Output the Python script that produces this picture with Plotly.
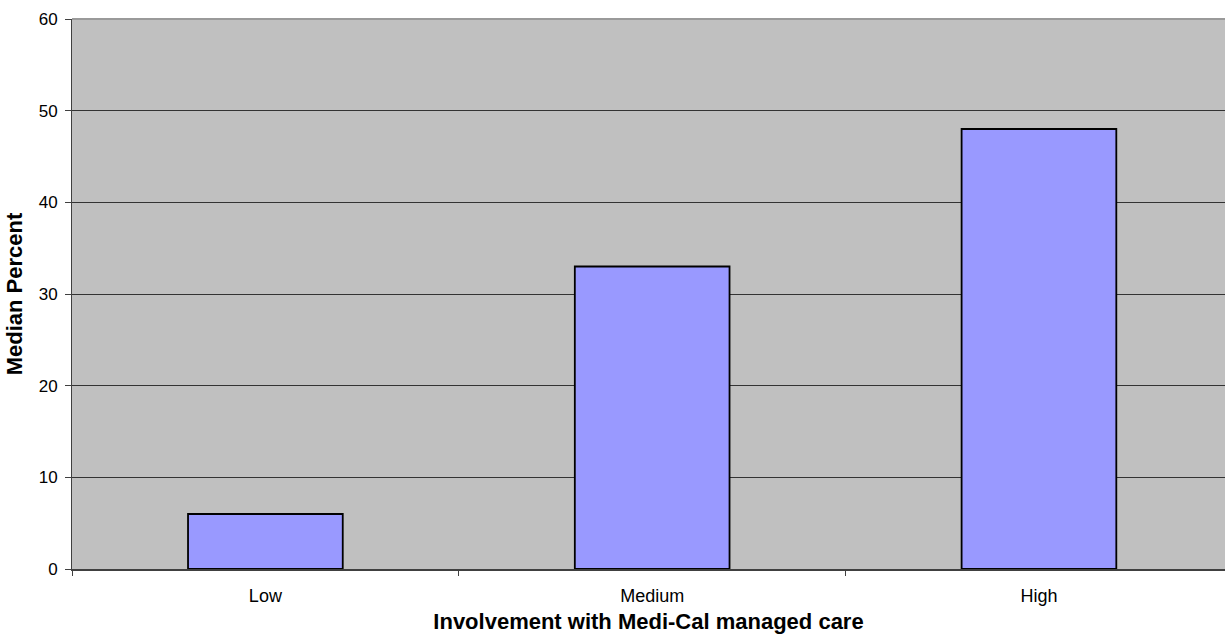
import plotly.graph_objects as go

# Median percent by level of involvement with Medi-Cal managed care
categories = ["Low", "Medium", "High"]
median_percent = [6, 33, 48]
y_ticks = [0, 10, 20, 30, 40, 50, 60]

FONT = "Liberation Sans, Arial, sans-serif"

fig = go.Figure(
    go.Bar(
        x=categories,
        y=median_percent,
        width=0.4,
        marker=dict(color="#9999FF", line=dict(color="#000000", width=1.8)),
        hoverinfo="x+y",
    )
)

fig.update_layout(
    width=1225,
    height=640,
    margin=dict(l=72, r=0, t=19, b=71),
    paper_bgcolor="#FFFFFF",
    plot_bgcolor="#C0C0C0",
    showlegend=False,
    font=dict(family=FONT, color="#000000", size=18),
    bargap=0.6,
)

fig.update_xaxes(
    type="category",
    range=[-0.5, 2.481],
    tickson="boundaries",
    ticks="outside",
    ticklen=5,
    tickcolor="#404040",
    showgrid=False,
    showline=True,
    linecolor="#404040",
    linewidth=2,
    ticklabelstandoff=9,
    tickfont=dict(size=18),
    title=dict(
        text="<b>Involvement with Medi-Cal managed care</b>",
        font=dict(size=22),
        standoff=9,
    ),
    fixedrange=True,
)

fig.update_yaxes(
    range=[0, 60],
    tickvals=y_ticks,
    ticks="outside",
    ticklen=6,
    tickcolor="#404040",
    showgrid=True,
    gridcolor="#333333",
    gridwidth=1,
    showline=True,
    linecolor="#404040",
    linewidth=1,
    zeroline=False,
    tickfont=dict(size=17),
    ticklabelstandoff=4,
    title=dict(text="<b>Median Percent</b>", font=dict(size=22), standoff=9),
    fixedrange=True,
)

# light top border of the plot area
fig.add_shape(
    type="line", xref="paper", yref="paper",
    x0=0, x1=1, y0=1, y1=1,
    line=dict(color="#9A9A9A", width=2),
)

fig.write_html("out.html", config={"displayModeBar": False})
